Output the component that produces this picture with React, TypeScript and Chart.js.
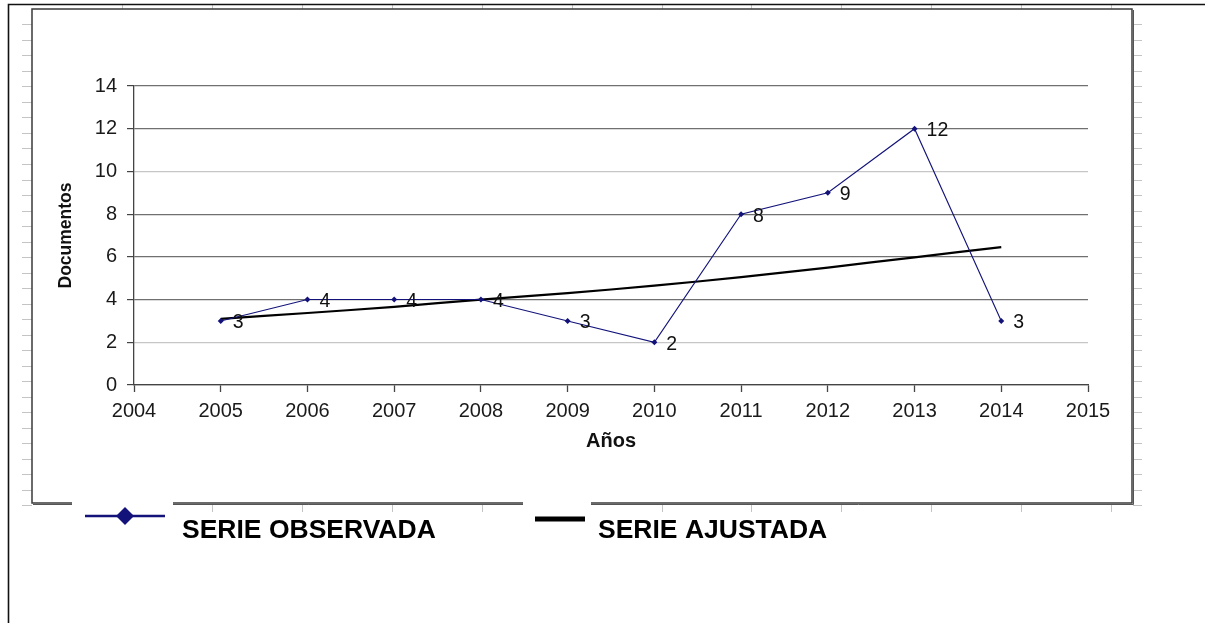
import React, { useEffect, useRef } from "react";
import { Chart, registerables } from "chart.js";

Chart.register(...registerables);

// ---- data ----
const years = [2005, 2006, 2007, 2008, 2009, 2010, 2011, 2012, 2013, 2014];
const observed = [3, 4, 4, 4, 3, 2, 8, 9, 12, 3];
const fitted = [3.1, 3.37, 3.66, 4.0, 4.3, 4.65, 5.05, 5.5, 5.98, 6.46];
const xMin = 2004;
const xMax = 2015;
const yMin = 0;
const yMax = 14;
const yStep = 2;
const seriesNames = ["SERIE OBSERVADA", "SERIE AJUSTADA"];
const xTitle = "Años";
const yTitle = "Documentos";

const FONT = '"Liberation Sans", Arial, sans-serif';
const NAVY = "#12127a";

const sheetPlugin = {
  id: "sheet",
  beforeDraw(chart: any) {
    const ctx = chart.ctx;
    ctx.save();
    ctx.fillStyle = "#ffffff";
    ctx.fillRect(0, 0, chart.width, chart.height);
    // spreadsheet cell marks
    ctx.strokeStyle = "#c4c4c4";
    ctx.lineWidth = 1;
    for (let k = 1; k <= 12; k++) {
      const x = Math.round(32 + 89.93 * k) + 0.5;
      ctx.beginPath();
      ctx.moveTo(x, 5);
      ctx.lineTo(x, 9);
      ctx.moveTo(x, 504);
      ctx.lineTo(x, 512);
      ctx.stroke();
    }
    for (let k = 1; k <= 32; k++) {
      const y = Math.round(8.8 + 15.52 * k) + 0.5;
      ctx.beginPath();
      ctx.moveTo(22, y);
      ctx.lineTo(32, y);
      ctx.moveTo(1133, y);
      ctx.lineTo(1142, y);
      ctx.stroke();
    }
    // outer border
    ctx.strokeStyle = "#111111";
    ctx.lineWidth = 1.6;
    ctx.beginPath();
    ctx.moveTo(8.5, 623);
    ctx.lineTo(8.5, 4.5);
    ctx.lineTo(1205, 4.5);
    ctx.stroke();
    // chart frame
    ctx.strokeStyle = "#3a3a3a";
    ctx.lineWidth = 1.5;
    ctx.strokeRect(32, 9, 1100, 494);
    ctx.strokeStyle = "#555555";
    ctx.lineWidth = 1;
    ctx.beginPath();
    ctx.moveTo(1133.5, 10);
    ctx.lineTo(1133.5, 504.5);
    ctx.lineTo(33, 504.5);
    ctx.stroke();
    ctx.restore();
  },
};

const labelPlugin = {
  id: "pointLabels",
  afterDatasetsDraw(chart: any) {
    const ctx = chart.ctx;
    const meta = chart.getDatasetMeta(0);
    const data = chart.data.datasets[0].data;
    ctx.save();
    ctx.font = `19.5px ${FONT}`;
    ctx.fillStyle = "#111111";
    ctx.textAlign = "left";
    ctx.textBaseline = "middle";
    meta.data.forEach((pt: any, i: number) => {
      ctx.fillText(String(data[i].y), pt.x + 12, pt.y + 2);
    });
    ctx.restore();
  },
};

function stretchedText(ctx: any, text: string, x: number, y: number, sx: number) {
  ctx.save();
  ctx.translate(x, y);
  ctx.scale(sx, 1);
  ctx.fillText(text, 0, 0);
  ctx.restore();
}

const legendPlugin = {
  id: "sheetLegend",
  afterDraw(chart: any) {
    const ctx = chart.ctx;
    const ds = chart.data.datasets;
    ctx.save();
    // white boxes covering frame line
    ctx.fillStyle = "#ffffff";
    ctx.fillRect(72, 498, 101, 18);
    ctx.fillRect(523, 498, 68, 16);
    // observed entry
    ctx.strokeStyle = ds[0].borderColor;
    ctx.lineWidth = 2.5;
    ctx.beginPath();
    ctx.moveTo(85, 516);
    ctx.lineTo(165, 516);
    ctx.stroke();
    ctx.fillStyle = ds[0].pointBackgroundColor;
    ctx.beginPath();
    ctx.moveTo(125, 507);
    ctx.lineTo(134, 516);
    ctx.lineTo(125, 525);
    ctx.lineTo(116, 516);
    ctx.closePath();
    ctx.fill();
    // fitted entry
    ctx.strokeStyle = ds[1].borderColor;
    ctx.lineWidth = 5;
    ctx.beginPath();
    ctx.moveTo(535, 519);
    ctx.lineTo(585, 519);
    ctx.stroke();
    ctx.fillStyle = "#000000";
    ctx.font = `bold 25px ${FONT}`;
    ctx.textBaseline = "middle";
    ctx.textAlign = "left";
    stretchedText(ctx, ds[0].label, 182, 531, 1.06);
    stretchedText(ctx, ds[1].label, 598, 531, 1.06);
    ctx.restore();
  },
};

export default function App() {
  const ref = useRef<HTMLCanvasElement>(null);

  useEffect(() => {
    if (!ref.current) return;
    const yTickValues: number[] = [];
    for (let v = yMin; v <= yMax; v += yStep) yTickValues.push(v);

    const chart = new Chart(ref.current, {
      type: "line",
      data: {
        datasets: [
          {
            label: seriesNames[0],
            data: years.map((x, i) => ({ x, y: observed[i] })),
            borderColor: NAVY,
            borderWidth: 1.1,
            pointStyle: "rectRot",
            pointRadius: 3,
            pointBackgroundColor: NAVY,
            pointBorderColor: NAVY,
            pointBorderWidth: 0,
            tension: 0,
          },
          {
            label: seriesNames[1],
            data: years.map((x, i) => ({ x, y: fitted[i] })),
            borderColor: "#000000",
            borderWidth: 2.2,
            pointRadius: 0,
            tension: 0.2,
          },
        ],
      },
      options: {
        responsive: false,
        animation: false,
        layout: { padding: { left: 56, top: 86, right: 117, bottom: 170 } },
        plugins: {
          legend: { display: false },
          tooltip: { enabled: false },
        },
        scales: {
          x: {
            type: "linear",
            min: xMin,
            max: xMax,
            afterFit: (s: any) => {
              s.height = 68;
            },
            afterBuildTicks: (s: any) => {
              const t = [];
              for (let v = xMin; v <= xMax; v++) t.push({ value: v });
              s.ticks = t;
            },
            ticks: {
              font: { family: FONT, size: 20 },
              color: "#1a1a1a",
              padding: 7,
              maxRotation: 0,
              callback: (v: any) => String(v),
            },
            grid: {
              drawOnChartArea: false,
              tickLength: 7,
              tickColor: "#444444",
              tickWidth: 1.3,
            },
            border: { color: "#444444", width: 1.3 },
            title: {
              display: true,
              text: xTitle,
              font: { family: FONT, size: 20, weight: "bold" },
              color: "#111111",
              padding: 0,
            },
          },
          y: {
            min: yMin,
            max: yMax,
            afterFit: (s: any) => {
              s.width = 78;
            },
            afterBuildTicks: (s: any) => {
              s.ticks = yTickValues.map((v) => ({ value: v }));
            },
            ticks: {
              font: { family: FONT, size: 20 },
              color: "#1a1a1a",
              padding: 10,
            },
            grid: {
              color: (c: any) =>
                c.tick && (c.tick.value === 10 || c.tick.value === 2) ? "#c6c6c6" : "#707070",
              lineWidth: 1.2,
              tickLength: 7,
              tickColor: "#444444",
            },
            border: { color: "#444444", width: 1.3 },
            title: {
              display: true,
              text: yTitle,
              font: { family: FONT, size: 17.5, weight: "bold" },
              color: "#111111",
              padding: 0,
            },
          },
        },
      },
      plugins: [sheetPlugin, labelPlugin, legendPlugin],
    });
    return () => chart.destroy();
  }, []);

  return (
    <div style={{ position: "fixed", left: 0, top: 0, width: 1205, height: 623, background: "#fff" }}>
      <canvas ref={ref} width={1205} height={623} style={{ display: "block" }} />
    </div>
  );
}
